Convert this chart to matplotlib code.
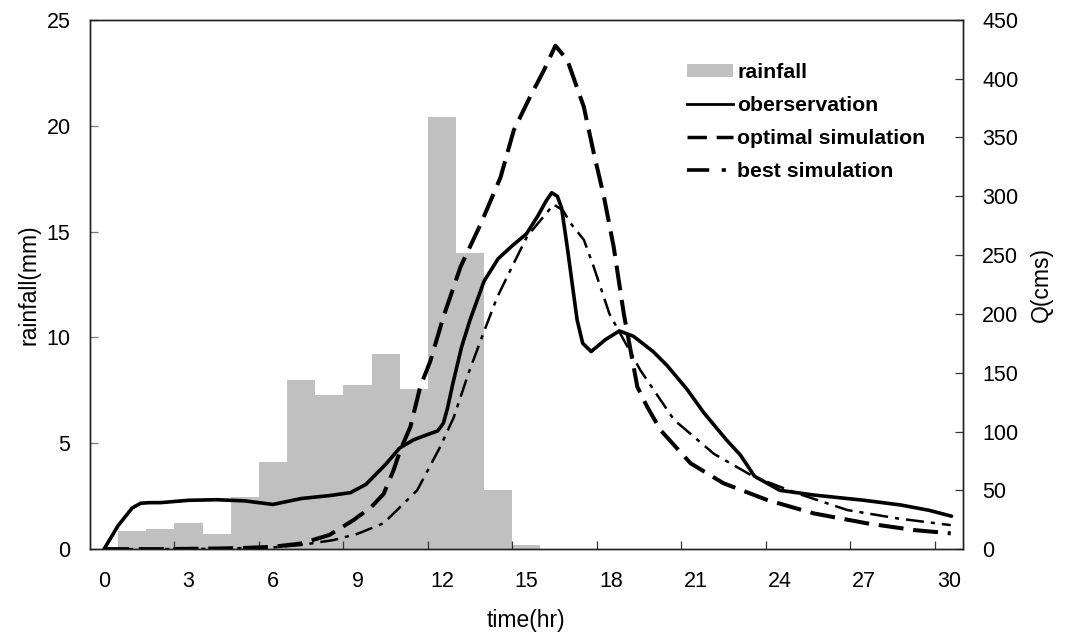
import matplotlib
matplotlib.use("Agg")
import matplotlib.pyplot as plt
from matplotlib.patches import Patch
from matplotlib.lines import Line2D

plt.rcParams['font.family'] = ['Liberation Sans', 'DejaVu Sans']
plt.rcParams['lines.scale_dashes'] = False

# ---- data ----
rain_hours = [1, 2, 3, 4, 5, 6, 7, 8, 9, 10, 11, 12, 13, 14, 15]
rainfall = [0.85, 0.96, 1.23, 0.71, 2.46, 4.12, 8.0, 7.28, 7.76, 9.23, 7.58, 20.4, 14.0, 2.8, 0.2]

obs_t = [0, 0.5, 1.0, 1.3, 1.6, 2, 3, 4, 5, 6, 7, 8, 8.75, 9.3, 10, 10.5, 11, 11.5, 11.85, 12.05, 12.2,
         12.4, 12.7, 13, 13.5, 14, 14.5, 15, 15.4, 15.7, 15.9, 16.1, 16.25, 16.45, 16.8, 17.0, 17.3, 17.8,
         18.3, 18.8, 19.5, 20, 20.7, 21.3, 22.1, 22.6, 23.1, 24, 25.2, 27, 28.3, 29.3, 30.1]
obs_q = [0, 20, 35, 39, 39.5, 39.5, 41.5, 42, 41, 38, 43, 45.5, 48, 55, 72, 86, 93, 97.5, 100.5, 107, 120,
         142, 172, 195, 228, 247, 258, 268, 283, 296, 303, 300, 290, 257, 195, 175, 168, 178,
         185.5, 181, 168, 156, 136, 116, 93, 80, 62, 50, 46, 41.5, 37.5, 33, 28]

opt_t = [0, 2, 4, 5, 6, 7, 8, 8.86, 9.5, 9.93, 10.28, 10.52, 10.88, 11.23, 11.59, 12.06,
         12.66, 13.37, 14.08, 14.55, 15.14, 15.62, 16.03, 16.45, 17.04, 17.39, 17.75, 18.1,
         18.46, 18.94, 19.29, 19.77, 20.83, 22.0, 23.56, 25.2, 27.1, 28.77, 30.07]
opt_q = [0, 0, 0.5, 1, 2, 4.8, 12, 24.7, 36, 47, 67, 84, 104, 138, 160, 198,
         240, 276, 316, 356, 385, 407, 428, 416, 376, 337, 300, 257,
         200, 138, 121, 101, 73, 56, 41.7, 30.4, 21.9, 16.2, 13.4]

best_t = [0, 2, 4, 6, 7, 8.15, 9, 9.93, 11.12, 11.94, 12.42, 12.95, 13.48, 13.96, 14.55,
          15.03, 15.62, 15.97, 16.3, 16.57, 17.04, 17.39, 17.95, 19.05, 20.24, 21.66, 23.08,
          24.62, 26.4, 28.18, 30.07]
best_q = [0, 0, 0.3, 1.5, 3.5, 7.7, 13, 22, 50, 87, 112, 150, 184, 214, 243,
          266, 283, 293, 288, 277, 263, 240, 200, 152, 110, 81, 61.5,
          47.4, 33.2, 26.1, 20.4]

x_labels = [0, 3, 6, 9, 12, 15, 18, 21, 24, 27, 30]

# ---- figure ----
fig = plt.figure(figsize=(10.71, 6.40), dpi=100)
ax = fig.add_axes([0.084, 0.142, 0.815, 0.827])
ax2 = ax.twinx()

ax.bar(rain_hours, rainfall, width=1.0, color='#c0c0c0', edgecolor='none', zorder=1)
ax.set_xlim(-0.5, 30.5)
ax.set_ylim(0, 25)
ax.set_yticks([0, 5, 10, 15, 20, 25])

ax2.plot(obs_t, obs_q, color='black', lw=2.6, solid_capstyle='round', solid_joinstyle='round')
ax2.plot(opt_t, opt_q, color='black', lw=2.9, dashes=(18, 7))
ax2.plot(best_t, best_q, color='black', lw=1.8, dashes=(13, 5, 3, 5))
ax2.set_ylim(0, 450)
ax2.set_yticks(range(0, 451, 50))
ax2.set_xlim(-0.5, 30.5)

ax.set_xticks(x_labels)
ax.set_xticks([v + 2.5 for v in x_labels[:-1]], minor=True)
ax.tick_params(axis='x', which='major', length=0, pad=16, labelsize=15.5)
ax.tick_params(axis='x', which='minor', direction='in', length=5.5, width=0.9, color='#333333')
ax.tick_params(axis='y', direction='in', length=5.5, width=0.9, color='#777777', pad=14, labelsize=15.5)
ax2.tick_params(axis='y', direction='in', length=5.5, width=0.9, color='#333333', pad=14, labelsize=15.5)

for a in (ax, ax2):
    for s in a.spines.values():
        s.set_linewidth(1.0)
        s.set_color('#222222')

ax.set_xlabel('time(hr)', fontsize=16.5, labelpad=12)
ax.set_ylabel('rainfall(mm)', fontsize=16.5, labelpad=4)
ax2.set_ylabel('Q(cms)', fontsize=16.5, labelpad=8)

handles = [Patch(facecolor='#c0c0c0', edgecolor='none'),
           Line2D([], [], color='black', lw=2.0),
           Line2D([], [], color='black', lw=2.5, dashes=(14, 7)),
           Line2D([], [], color='black', lw=2.6, dashes=(16, 9, 3, 7))]
labels = ['rainfall', 'oberservation', 'optimal simulation', 'best simulation']
leg = fig.legend(handles, labels, loc='upper left', bbox_to_anchor=(0.628, 0.925),
                 frameon=False, prop={'weight': 'bold', 'size': 15.3},
                 handlelength=2.15, handletextpad=0.2, labelspacing=0.66,
                 handleheight=0.55, borderpad=0.2)

fig.savefig('out.png', dpi=100)
